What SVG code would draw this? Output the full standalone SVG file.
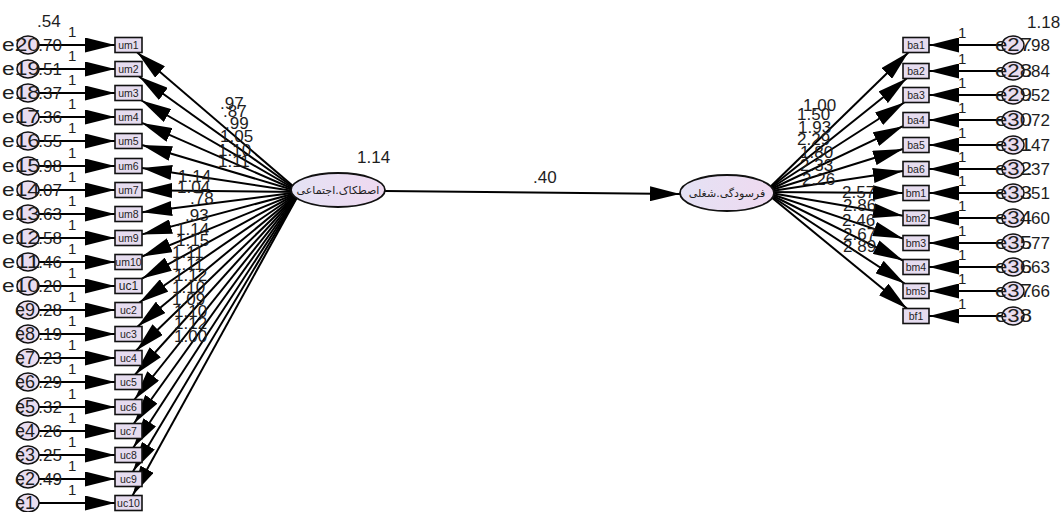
<svg xmlns="http://www.w3.org/2000/svg" width="1062" height="512" viewBox="0 0 1062 512">
<style>
text{font-family:"Liberation Sans",Arial,sans-serif;fill:#1e1e1e}
.lbl{font-size:17px}
.one{font-size:15px}
.en{font-size:18px}
.box rect{fill:#e6dcef;stroke:#111;stroke-width:1.6}
.box text{font-size:10.5px;text-anchor:middle}
.err ellipse{fill:#e9ddf0;stroke:#111;stroke-width:1.4}
.lat ellipse{fill:url(#lg);stroke:#111;stroke-width:1.8}
.lat text{font-family:"DejaVu Sans","Noto Sans",sans-serif;font-size:11px;text-anchor:middle}
#connectors line{stroke:#000;stroke-width:2;marker-end:url(#ah)}
</style>
<defs>
<marker id="ah" markerUnits="userSpaceOnUse" markerWidth="30" markerHeight="15" viewBox="0 0 30 15" refX="30" refY="7.5" orient="auto"><path d="M0,0 L30,7.5 L0,15 z" fill="#000"/></marker>
<linearGradient id="lg" x1="0" x2="1" y1="0" y2="0"><stop offset="0" stop-color="#e4e2f4"/><stop offset="1" stop-color="#efd9f0"/></linearGradient>
</defs>
<rect width="1062" height="512" fill="#fff"/>

<g id="fixed-weights" class="one">
<text x="68" y="37">1</text><text x="68" y="61">1</text><text x="68" y="85">1</text><text x="68" y="109">1</text><text x="68" y="133">1</text><text x="68" y="158">1</text><text x="68" y="182">1</text><text x="68" y="206">1</text><text x="68" y="230">1</text><text x="68" y="254">1</text><text x="68" y="278">1</text><text x="68" y="302">1</text><text x="68" y="326">1</text><text x="68" y="350">1</text><text x="68" y="374">1</text><text x="68" y="399">1</text><text x="68" y="423">1</text><text x="68" y="447">1</text><text x="68" y="471">1</text><text x="68" y="495">1</text>
<text x="958" y="38">1</text><text x="958" y="64">1</text><text x="958" y="88">1</text><text x="958" y="113">1</text><text x="958" y="138">1</text><text x="958" y="162">1</text><text x="958" y="186">1</text><text x="958" y="211">1</text><text x="958" y="236">1</text><text x="958" y="260">1</text><text x="958" y="284">1</text><text x="958" y="309">1</text>
</g>

<g id="connectors">
<line x1="39" y1="45" x2="115" y2="45"/><line x1="39" y1="69" x2="115" y2="69"/><line x1="39" y1="93" x2="115" y2="93"/><line x1="39" y1="117" x2="115" y2="117"/><line x1="39" y1="141" x2="115" y2="141"/><line x1="39" y1="166" x2="115" y2="166"/><line x1="39" y1="190" x2="115" y2="190"/><line x1="39" y1="214" x2="115" y2="214"/><line x1="39" y1="238" x2="115" y2="238"/><line x1="39" y1="262" x2="115" y2="262"/><line x1="39" y1="286" x2="115" y2="286"/><line x1="39" y1="310" x2="115" y2="310"/><line x1="39" y1="334" x2="115" y2="334"/><line x1="39" y1="358" x2="115" y2="358"/><line x1="39" y1="382" x2="115" y2="382"/><line x1="39" y1="407" x2="115" y2="407"/><line x1="39" y1="431" x2="115" y2="431"/><line x1="39" y1="455" x2="115" y2="455"/><line x1="39" y1="479" x2="115" y2="479"/><line x1="39" y1="503" x2="115" y2="503"/>
<line x1="1002" y1="45" x2="929" y2="45"/><line x1="1002" y1="71" x2="929" y2="71"/><line x1="1002" y1="95" x2="929" y2="95"/><line x1="1002" y1="120" x2="929" y2="120"/><line x1="1002" y1="145" x2="929" y2="145"/><line x1="1002" y1="169" x2="929" y2="169"/><line x1="1002" y1="193" x2="929" y2="193"/><line x1="1002" y1="218" x2="929" y2="218"/><line x1="1002" y1="243" x2="929" y2="243"/><line x1="1002" y1="267" x2="929" y2="267"/><line x1="1002" y1="291" x2="929" y2="291"/><line x1="1002" y1="316" x2="929" y2="316"/>
<line x1="300" y1="192" x2="137.3" y2="52.5"/><line x1="300" y1="192" x2="139" y2="76.5"/><line x1="300" y1="192" x2="141.5" y2="100.5"/><line x1="300" y1="192" x2="142" y2="122.9"/><line x1="300" y1="192" x2="142" y2="145"/><line x1="300" y1="192" x2="142" y2="168"/><line x1="300" y1="192" x2="142" y2="190.2"/><line x1="300" y1="192" x2="142" y2="212.3"/><line x1="300" y1="192" x2="142" y2="234.4"/><line x1="300" y1="192" x2="142" y2="256.5"/><line x1="300" y1="192" x2="142" y2="278.6"/><line x1="300" y1="192" x2="139.4" y2="302.5"/><line x1="300" y1="192" x2="137.6" y2="326.5"/><line x1="300" y1="192" x2="136.2" y2="350.5"/><line x1="300" y1="192" x2="135.2" y2="374.5"/><line x1="300" y1="192" x2="134.5" y2="399.5"/><line x1="300" y1="192" x2="133.9" y2="423.5"/><line x1="300" y1="192" x2="133.4" y2="447.5"/><line x1="300" y1="192" x2="133" y2="471.5"/><line x1="300" y1="192" x2="132.6" y2="495.5"/>
<line x1="765" y1="192" x2="908.3" y2="52.5"/><line x1="765" y1="192" x2="906.6" y2="78.5"/><line x1="765" y1="192" x2="904.3" y2="102.5"/><line x1="765" y1="192" x2="903" y2="126.2"/><line x1="765" y1="192" x2="903" y2="149"/><line x1="765" y1="192" x2="903" y2="171"/><line x1="765" y1="192" x2="903" y2="192.9"/><line x1="765" y1="192" x2="903" y2="215.8"/><line x1="765" y1="192" x2="903" y2="238.6"/><line x1="765" y1="192" x2="903" y2="260.5"/><line x1="765" y1="192" x2="904.6" y2="283.5"/><line x1="765" y1="192" x2="906.9" y2="308.5"/>
<line x1="385" y1="191" x2="680" y2="194"/>
</g>

<g id="loadings" class="lbl">
<text x="220" y="109">.97</text><text x="223" y="117">.87</text><text x="225" y="129">.99</text><text x="220" y="142">1.05</text><text x="218" y="156">1.10</text><text x="218" y="167">1.11</text><text x="178" y="182">1.14</text><text x="177" y="193">1.04</text><text x="190" y="204">.78</text><text x="185" y="221">.93</text>
<text x="176" y="235">1.14</text><text x="176" y="246">1.15</text><text x="172" y="258">1.11</text><text x="172" y="270">1.11</text><text x="174" y="281">1.12</text><text x="172" y="293">1.10</text><text x="172" y="305">1.09</text><text x="174" y="317">1.10</text><text x="174" y="329">1.12</text><text x="174" y="342">1.00</text>
<text x="803" y="111">1.00</text><text x="797" y="120">1.50</text><text x="798" y="133">1.93</text><text x="797" y="145">2.29</text><text x="800" y="158">1.80</text><text x="800" y="171">2.33</text><text x="802" y="185">2.26</text><text x="842" y="198">2.57</text><text x="843" y="211">2.86</text><text x="842" y="226">2.46</text><text x="843" y="240">2.67</text><text x="843" y="252">2.89</text>
<text x="357" y="163">1.14</text><text x="533" y="183">.40</text>
<text x="37" y="27">.54</text><text x="1027" y="28">1.18</text>
</g>

<g id="uc_um_boxes" class="box">
<g id="um1"><rect x="115" y="37.5" width="27" height="15"/><text x="128.5" y="49">um1</text></g>
<g id="um2"><rect x="115" y="61.5" width="27" height="15"/><text x="128.5" y="73">um2</text></g>
<g id="um3"><rect x="115" y="85.5" width="27" height="15"/><text x="128.5" y="97">um3</text></g>
<g id="um4"><rect x="115" y="109.5" width="27" height="15"/><text x="128.5" y="121">um4</text></g>
<g id="um5"><rect x="115" y="133.5" width="27" height="15"/><text x="128.5" y="145">um5</text></g>
<g id="um6"><rect x="115" y="158.5" width="27" height="15"/><text x="128.5" y="170">um6</text></g>
<g id="um7"><rect x="115" y="182.5" width="27" height="15"/><text x="128.5" y="194">um7</text></g>
<g id="um8"><rect x="115" y="206.5" width="27" height="15"/><text x="128.5" y="218">um8</text></g>
<g id="um9"><rect x="115" y="230.5" width="27" height="15"/><text x="128.5" y="242">um9</text></g>
<g id="um10"><rect x="115" y="254.5" width="27" height="15"/><text x="128.5" y="266">um10</text></g>
<g id="uc1"><rect x="115" y="278.5" width="27" height="15"/><text x="128.5" y="290" style="font-size:12px">uc1</text></g>
<g id="uc2"><rect x="115" y="302.5" width="27" height="15"/><text x="128.5" y="314">uc2</text></g>
<g id="uc3"><rect x="115" y="326.5" width="27" height="15"/><text x="128.5" y="338">uc3</text></g>
<g id="uc4"><rect x="115" y="350.5" width="27" height="15"/><text x="128.5" y="362">uc4</text></g>
<g id="uc5"><rect x="115" y="374.5" width="27" height="15"/><text x="128.5" y="386">uc5</text></g>
<g id="uc6"><rect x="115" y="399.5" width="27" height="15"/><text x="128.5" y="411">uc6</text></g>
<g id="uc7"><rect x="115" y="423.5" width="27" height="15"/><text x="128.5" y="435">uc7</text></g>
<g id="uc8"><rect x="115" y="447.5" width="27" height="15"/><text x="128.5" y="459">uc8</text></g>
<g id="uc9"><rect x="115" y="471.5" width="27" height="15"/><text x="128.5" y="483">uc9</text></g>
<g id="uc10"><rect x="115" y="495.5" width="27" height="15"/><text x="128.5" y="507">uc10</text></g>
</g>

<g id="b_boxes" class="box">
<g id="ba1"><rect x="903" y="37.5" width="26" height="15"/><text x="916" y="49">ba1</text></g>
<g id="ba2"><rect x="903" y="63.5" width="26" height="15"/><text x="916" y="75">ba2</text></g>
<g id="ba3"><rect x="903" y="87.5" width="26" height="15"/><text x="916" y="99">ba3</text></g>
<g id="ba4"><rect x="903" y="112.5" width="26" height="15"/><text x="916" y="124">ba4</text></g>
<g id="ba5"><rect x="903" y="137.5" width="26" height="15"/><text x="916" y="149">ba5</text></g>
<g id="ba6"><rect x="903" y="161.5" width="26" height="15"/><text x="916" y="173">ba6</text></g>
<g id="bm1"><rect x="903" y="185.5" width="26" height="15"/><text x="916" y="197">bm1</text></g>
<g id="bm2"><rect x="903" y="210.5" width="26" height="15"/><text x="916" y="222">bm2</text></g>
<g id="bm3"><rect x="903" y="235.5" width="26" height="15"/><text x="916" y="247">bm3</text></g>
<g id="bm4"><rect x="903" y="259.5" width="26" height="15"/><text x="916" y="271">bm4</text></g>
<g id="bm5"><rect x="903" y="283.5" width="26" height="15"/><text x="916" y="295">bm5</text></g>
<g id="bf1"><rect x="903" y="308.5" width="26" height="15"/><text x="916" y="320">bf1</text></g>
</g>

<g id="left_errors" class="err">
<g id="e20"><ellipse cx="28" cy="45" rx="11" ry="9"/><text class="en" x="2" y="51" textLength="38" lengthAdjust="spacingAndGlyphs">e20</text><text class="lbl" x="62" y="51" text-anchor="end">.70</text></g>
<g id="e19"><ellipse cx="28" cy="69" rx="11" ry="9"/><text class="en" x="2" y="75" textLength="38" lengthAdjust="spacingAndGlyphs">e19</text><text class="lbl" x="62" y="75" text-anchor="end">.51</text></g>
<g id="e18"><ellipse cx="28" cy="93" rx="11" ry="9"/><text class="en" x="2" y="99" textLength="38" lengthAdjust="spacingAndGlyphs">e18</text><text class="lbl" x="62" y="99" text-anchor="end">.37</text></g>
<g id="e17"><ellipse cx="28" cy="117" rx="11" ry="9"/><text class="en" x="2" y="123" textLength="38" lengthAdjust="spacingAndGlyphs">e17</text><text class="lbl" x="62" y="123" text-anchor="end">.36</text></g>
<g id="e16"><ellipse cx="28" cy="141" rx="11" ry="9"/><text class="en" x="2" y="147" textLength="38" lengthAdjust="spacingAndGlyphs">e16</text><text class="lbl" x="62" y="147" text-anchor="end">.55</text></g>
<g id="e15"><ellipse cx="28" cy="166" rx="11" ry="9"/><text class="en" x="2" y="172" textLength="38" lengthAdjust="spacingAndGlyphs">e15</text><text class="lbl" x="62" y="172" text-anchor="end">.98</text></g>
<g id="e14"><ellipse cx="28" cy="190" rx="11" ry="9"/><text class="en" x="2" y="196" textLength="38" lengthAdjust="spacingAndGlyphs">e14</text><text class="lbl" x="62" y="196" text-anchor="end">.07</text></g>
<g id="e13"><ellipse cx="28" cy="214" rx="11" ry="9"/><text class="en" x="2" y="220" textLength="38" lengthAdjust="spacingAndGlyphs">e13</text><text class="lbl" x="62" y="220" text-anchor="end">.63</text></g>
<g id="e12"><ellipse cx="28" cy="238" rx="11" ry="9"/><text class="en" x="2" y="244" textLength="38" lengthAdjust="spacingAndGlyphs">e12</text><text class="lbl" x="62" y="244" text-anchor="end">.58</text></g>
<g id="e11"><ellipse cx="28" cy="262" rx="11" ry="9"/><text class="en" x="2" y="268" textLength="38" lengthAdjust="spacingAndGlyphs">e11</text><text class="lbl" x="62" y="268" text-anchor="end">.46</text></g>
<g id="e10"><ellipse cx="28" cy="286" rx="11" ry="9"/><text class="en" x="2" y="292" textLength="38" lengthAdjust="spacingAndGlyphs">e10</text><text class="lbl" x="62" y="292" text-anchor="end">.20</text></g>
<g id="e9"><ellipse cx="28" cy="310" rx="11" ry="9"/><text class="en" x="15" y="316" textLength="20" lengthAdjust="spacingAndGlyphs">e9</text><text class="lbl" x="62" y="316" text-anchor="end">.28</text></g>
<g id="e8"><ellipse cx="28" cy="334" rx="11" ry="9"/><text class="en" x="15" y="340" textLength="20" lengthAdjust="spacingAndGlyphs">e8</text><text class="lbl" x="62" y="340" text-anchor="end">.19</text></g>
<g id="e7"><ellipse cx="28" cy="358" rx="11" ry="9"/><text class="en" x="15" y="364" textLength="20" lengthAdjust="spacingAndGlyphs">e7</text><text class="lbl" x="62" y="364" text-anchor="end">.23</text></g>
<g id="e6"><ellipse cx="28" cy="382" rx="11" ry="9"/><text class="en" x="15" y="388" textLength="20" lengthAdjust="spacingAndGlyphs">e6</text><text class="lbl" x="62" y="388" text-anchor="end">.29</text></g>
<g id="e5"><ellipse cx="28" cy="407" rx="11" ry="9"/><text class="en" x="15" y="413" textLength="20" lengthAdjust="spacingAndGlyphs">e5</text><text class="lbl" x="62" y="413" text-anchor="end">.32</text></g>
<g id="e4"><ellipse cx="28" cy="431" rx="11" ry="9"/><text class="en" x="15" y="437" textLength="20" lengthAdjust="spacingAndGlyphs">e4</text><text class="lbl" x="62" y="437" text-anchor="end">.26</text></g>
<g id="e3"><ellipse cx="28" cy="455" rx="11" ry="9"/><text class="en" x="15" y="461" textLength="20" lengthAdjust="spacingAndGlyphs">e3</text><text class="lbl" x="62" y="461" text-anchor="end">.25</text></g>
<g id="e2"><ellipse cx="28" cy="479" rx="11" ry="9"/><text class="en" x="15" y="485" textLength="20" lengthAdjust="spacingAndGlyphs">e2</text><text class="lbl" x="62" y="485" text-anchor="end">.49</text></g>
<g id="e1"><ellipse cx="28" cy="503" rx="11" ry="9"/><text class="en" x="15" y="509" textLength="20" lengthAdjust="spacingAndGlyphs">e1</text></g>
</g>

<g id="right_errors" class="err">
<g id="e27"><ellipse cx="1013" cy="45" rx="11" ry="9"/><text class="en" x="995" y="51" textLength="37" lengthAdjust="spacingAndGlyphs">e27</text><text class="lbl" x="1050" y="51" text-anchor="end">.98</text></g>
<g id="e28"><ellipse cx="1013" cy="71" rx="11" ry="9"/><text class="en" x="995" y="77" textLength="37" lengthAdjust="spacingAndGlyphs">e28</text><text class="lbl" x="1050" y="77" text-anchor="end">.84</text></g>
<g id="e29"><ellipse cx="1013" cy="95" rx="11" ry="9"/><text class="en" x="995" y="101" textLength="37" lengthAdjust="spacingAndGlyphs">e29</text><text class="lbl" x="1050" y="101" text-anchor="end">.52</text></g>
<g id="e30"><ellipse cx="1013" cy="120" rx="11" ry="9"/><text class="en" x="995" y="126" textLength="37" lengthAdjust="spacingAndGlyphs">e30</text><text class="lbl" x="1050" y="126" text-anchor="end">.72</text></g>
<g id="e31"><ellipse cx="1013" cy="145" rx="11" ry="9"/><text class="en" x="995" y="151" textLength="37" lengthAdjust="spacingAndGlyphs">e31</text><text class="lbl" x="1050" y="151" text-anchor="end">.47</text></g>
<g id="e32"><ellipse cx="1013" cy="169" rx="11" ry="9"/><text class="en" x="995" y="175" textLength="37" lengthAdjust="spacingAndGlyphs">e32</text><text class="lbl" x="1050" y="175" text-anchor="end">.37</text></g>
<g id="e33"><ellipse cx="1013" cy="193" rx="11" ry="9"/><text class="en" x="995" y="199" textLength="37" lengthAdjust="spacingAndGlyphs">e33</text><text class="lbl" x="1050" y="199" text-anchor="end">.51</text></g>
<g id="e34"><ellipse cx="1013" cy="218" rx="11" ry="9"/><text class="en" x="995" y="224" textLength="37" lengthAdjust="spacingAndGlyphs">e34</text><text class="lbl" x="1050" y="224" text-anchor="end">.60</text></g>
<g id="e35"><ellipse cx="1013" cy="243" rx="11" ry="9"/><text class="en" x="995" y="249" textLength="37" lengthAdjust="spacingAndGlyphs">e35</text><text class="lbl" x="1050" y="249" text-anchor="end">.77</text></g>
<g id="e36"><ellipse cx="1013" cy="267" rx="11" ry="9"/><text class="en" x="995" y="273" textLength="37" lengthAdjust="spacingAndGlyphs">e36</text><text class="lbl" x="1050" y="273" text-anchor="end">.63</text></g>
<g id="e37"><ellipse cx="1013" cy="291" rx="11" ry="9"/><text class="en" x="995" y="297" textLength="37" lengthAdjust="spacingAndGlyphs">e37</text><text class="lbl" x="1050" y="297" text-anchor="end">.66</text></g>
<g id="e38"><ellipse cx="1013" cy="316" rx="11" ry="9"/><text class="en" x="995" y="322" textLength="37" lengthAdjust="spacingAndGlyphs">e38</text></g>
</g>

<g id="latent_social_friction" class="lat"><ellipse cx="338" cy="190" rx="47" ry="17"/><text x="338" y="194">اجتماعی&#x200E;.&#x200E;اصطکاک</text></g>
<g id="latent_job_burnout" class="lat"><ellipse cx="727" cy="193" rx="47" ry="18"/><text x="727" y="197">شغلی&#x200E;.&#x200E;فرسودگی</text></g>
</svg>
